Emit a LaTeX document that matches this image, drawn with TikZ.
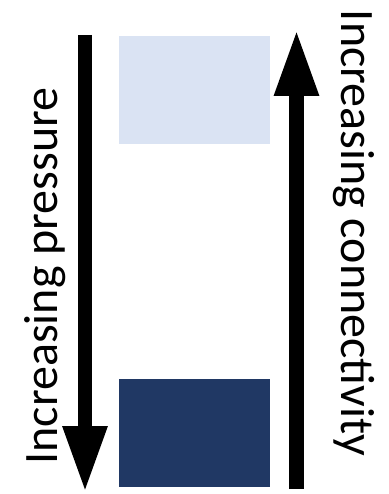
\documentclass[tikz,border=0pt]{standalone}
\usepackage{fontspec}
\setmainfont{Carlito}
\usetikzlibrary{arrows.meta}
\definecolor{paleblue}{HTML}{DAE3F3}
\definecolor{navy}{HTML}{203864}
\begin{document}
\begin{tikzpicture}[x=1pt,y=-1pt,
  block/.style={draw=none,minimum width=151pt,minimum height=108pt,inner sep=0pt},
  bigarrow/.style={line width=14.5pt,-{Triangle[width=41pt,length=67pt]}},
  sidelabel/.style={font=\fontsize{48}{58}\selectfont,inner sep=0pt}]
  \useasboundingbox (0,0) rectangle (388,494);
  % shaded states
  \node[block,fill=paleblue] (low) at (194.5,90) {};
  \node[block,fill=navy] (high) at (194.5,433) {};
  % trend arrows
  \coordinate (pTop) at (85,35);
  \coordinate (pTip) at (85,493);
  \coordinate (cBot) at (296.5,489);
  \coordinate (cTip) at (296.5,29);
  \draw[bigarrow] (pTop) -- (pTip);
  \draw[bigarrow] (cBot) -- (cTip);
  % axis labels
  \node[sidelabel,rotate=90,anchor=base] (pLabel) at (57,276) {Increasing pressure};
  \node[sidelabel,rotate=-90,anchor=base] (cLabel) at (341,233) {Increasing connectivity};
\end{tikzpicture}
\end{document}
